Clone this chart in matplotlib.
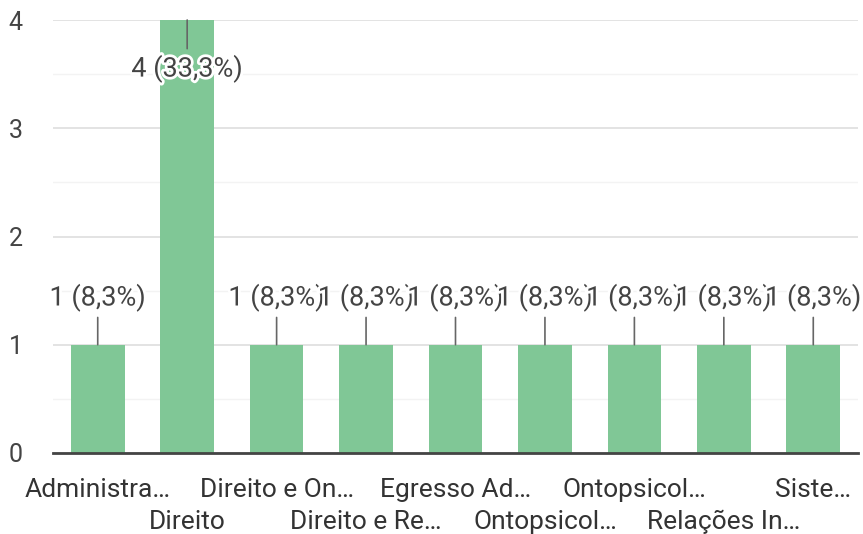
import matplotlib
matplotlib.use("Agg")
import matplotlib.pyplot as plt
import matplotlib.patheffects as pe
from matplotlib.transforms import ScaledTranslation
from matplotlib.ticker import MultipleLocator

categories = ["Administra…", "Direito", "Direito e On…", "Direito e Re…",
              "Egresso Ad…", "Ontopsicol…", "Ontopsicol…", "Relações In…", "Siste…"]
values = [1, 4, 1, 1, 1, 1, 1, 1, 1]
labels = ["1 (8,3%)", "4 (33,3%)", "1 (8,3%)", "1 (8,3%)", "1 (8,3%)",
          "1 (8,3%)", "1 (8,3%)", "1 (8,3%)", "1 (8,3%)"]
yticks = [0, 1, 2, 3, 4]

plt.rcParams['font.family'] = ['Roboto', 'DejaVu Sans']

fig = plt.figure(figsize=(8.63, 5.34), dpi=100)
ax = fig.add_axes([53/863, 1-453/534, (858-53)/863, (453-20)/534])

x = list(range(len(categories)))
ax.bar(x, values, width=0.6, color='#80c796', zorder=2)

ax.set_xlim(-0.5, len(categories)-0.5)
ax.set_ylim(0, 4)
ax.set_yticks(yticks)
ax.yaxis.set_minor_locator(MultipleLocator(0.5))
ax.grid(axis='y', which='major', color='#dedede', linewidth=1.2, zorder=0)
ax.grid(axis='y', which='minor', color='#f3f3f3', linewidth=1.0, zorder=0)
ax.set_axisbelow(True)
for s in ['top', 'right', 'left']:
    ax.spines[s].set_visible(False)
ax.spines['bottom'].set_color('#444444')
ax.spines['bottom'].set_linewidth(2)
ax.spines['bottom'].set_zorder(3)
ax.tick_params(axis='both', which='both', length=0)
ax.tick_params(axis='y', labelsize=18, labelcolor='#444444', pad=22)
ax.set_xticks(x)
ax.set_xticklabels(categories, fontsize=19, color='#333333')
ax.tick_params(axis='x', pad=18)
for i, lab in enumerate(ax.get_xticklabels()):
    if i % 2 == 1:
        lab.set_transform(lab.get_transform() + ScaledTranslation(0, -32/100, fig.dpi_scale_trans))

ymax = ax.get_ylim()[1]
for i, (v, t) in enumerate(zip(values, labels)):
    if v >= ymax - 0.5:
        ax.annotate(t, xy=(i, v), xytext=(0, -35), textcoords='offset points',
                    ha='center', va='center', fontsize=19.5, color='#444444', zorder=5,
                    path_effects=[pe.withStroke(linewidth=4, foreground='white')],
                    arrowprops=dict(arrowstyle='-', color='#666666', lw=1.2,
                                    shrinkA=2, shrinkB=0, relpos=(0.5, 1.0)))
    else:
        ax.annotate(t, xy=(i, v), xytext=(0, 34), textcoords='offset points',
                    ha='center', va='center', fontsize=19.5, color='#444444', zorder=5,
                    path_effects=[pe.withStroke(linewidth=4, foreground='white')],
                    arrowprops=dict(arrowstyle='-', color='#666666', lw=1.2,
                                    shrinkA=2, shrinkB=0, relpos=(0.5, 0.0)))

fig.savefig('out.png', dpi=100, facecolor='white')
